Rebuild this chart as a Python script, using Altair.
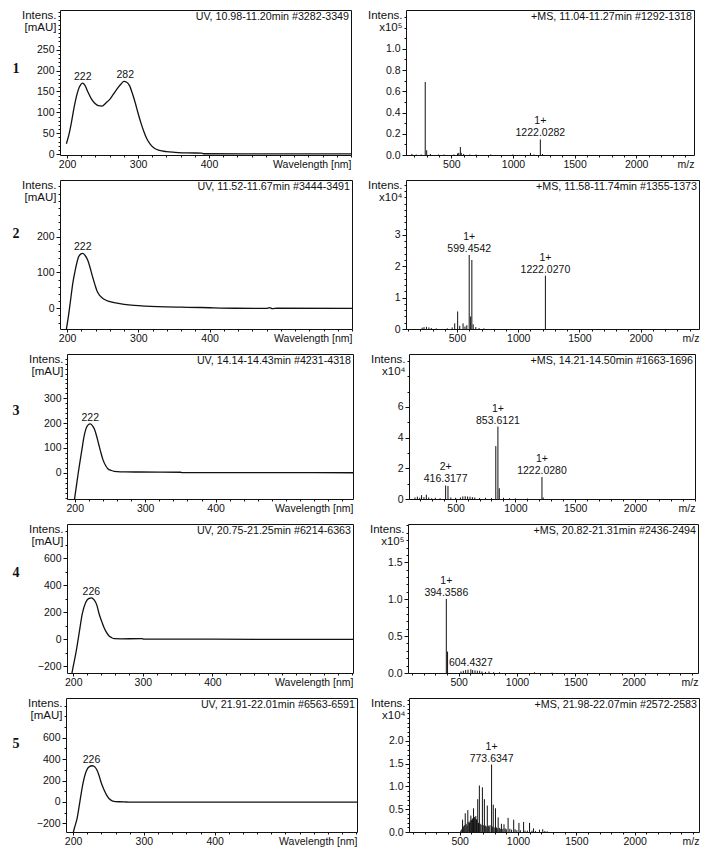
import math
import altair as alt
import pandas as pd

FONT = "Liberation Sans"
INK = "#111111"

# ---------------- data ----------------
ROW_NUMBERS = ["1", "2", "3", "4", "5"]

UV_HEADERS = ["UV, 10.98-11.20min #3282-3349", "UV, 11.52-11.67min #3444-3491",
              "UV, 14.14-14.43min #4231-4318", "UV, 20.75-21.25min #6214-6363",
              "UV, 21.91-22.01min #6563-6591"]
MS_HEADERS = ["+MS, 11.04-11.27min #1292-1318", "+MS, 11.58-11.74min #1355-1373",
              "+MS, 14.21-14.50min #1663-1696", "+MS, 20.82-21.31min #2436-2494",
              "+MS, 21.98-22.07min #2572-2583"]
MS_EXPONENT = ["x10\u2075", "x10\u2074", "x10\u2074", "x10\u2075", "x10\u2074"]

# UV spectra (wavelength nm, absorbance mAU)
UV1_NM = [199, 203, 206, 210, 213, 216, 219, 222, 225, 229, 234, 239, 244, 249, 255, 261, 267, 272,
          276, 280, 284, 288, 292, 296, 300, 304, 308, 312, 317, 323, 330, 340, 352, 370, 390, 392,
          450, 520, 600]
UV1_AB = [25, 50, 75, 113, 137, 155, 166, 170, 165, 150, 133, 122, 116, 115, 123, 133, 148, 160,
          168, 174, 172, 164, 145, 123, 98, 75, 55, 38, 24, 14, 9, 6, 4.5, 3, 2.5, 1,
          0.8, 0.8, 0.8]
UV2_NM = [199, 202, 205, 208, 212, 216, 219, 222, 225, 229, 232, 235, 239, 242, 246, 252, 259, 266,
          280, 294, 310, 327, 360, 388, 435, 480, 484, 488, 495, 600]
UV2_AB = [-58, -20, 25, 70, 112, 143, 151, 153, 148, 134, 115, 93, 66, 48, 35, 25, 19, 15.6,
          11, 8, 6, 4.6, 3, 2, 0, -0.5, 1.5, -1, 0, -0.5]
UV3_NM = [199, 202, 205, 208, 210, 213, 216, 219, 222, 225, 228, 231, 234, 237, 240, 244, 247, 252,
          256, 265, 285, 320, 350, 352, 420, 500, 595]
UV3_AB = [-120, -60, 0, 55, 90, 144, 178, 193, 197, 190, 175, 148, 115, 82, 53, 28, 16, 9,
          5.5, 3.5, 3, 2.5, 2, 0.5, 0.3, 0.2, 0]
UV4_NM = [197, 200, 204, 208.5, 213, 218, 222, 226, 230, 234, 237, 241, 244.5, 248, 251.5, 255,
          259, 270, 299, 301, 400, 500, 602]
UV4_AB = [-280, -200, -96, 47, 190, 274, 300, 306, 290, 250, 190, 130, 83, 48, 24, 12,
          4, 3, 4, 0, 0, -1, -1]
UV5_NM = [199, 202, 205.6, 209.4, 214, 219, 223, 227, 231, 234, 237, 240, 244, 247, 251, 256,
          265, 275, 290, 601]
UV5_AB = [-320, -240, -155, -5, 174, 293, 330, 338, 325, 293, 240, 174, 110, 69, 30, 9,
          2, 0, -2, -2]

UV_PEAK_NM = [[222, 282], [222], [222], [226], [226]]
UV_PEAK_AB = [[170, 175], [153], [197], [306], [338]]

# MS spectra (m/z, intensity in units of the exponent)
MS1_MZ = [180, 215, 255, 288, 300, 330, 395, 440, 520, 550, 560, 573, 580, 600, 650, 700, 820,
          1000, 1142, 1170, 1222.03, 1240]
MS1_IN = [0.01, 0.005, 0.005, 0.687, 0.045, 0.01, 0.005, 0.005, 0.005, 0.015, 0.02, 0.075, 0.02,
          0.01, 0.005, 0.005, 0.005, 0.005, 0.02, 0.005, 0.146, 0.01]
MS2_MZ = [215, 230, 250, 270, 290, 330, 420, 460, 481, 505, 522, 549, 565, 580, 599.45, 611, 621,
          632, 653, 680, 720, 1222.03]
MS2_IN = [0.04, 0.06, 0.07, 0.05, 0.03, 0.02, 0.02, 0.05, 0.18, 0.56, 0.1, 0.18, 0.08, 0.12, 2.36,
          0.4, 2.2, 0.15, 0.06, 0.03, 0.02, 1.70]
MS3_MZ = [160, 180, 200, 215, 235, 255, 275, 300, 330, 370, 416.32, 436, 460, 500, 540, 560, 580,
          600, 620, 640, 660, 700, 750, 800, 836, 853.61, 865, 900, 950, 1000, 1100, 1222.03, 1232]
MS3_IN = [0.1, 0.15, 0.08, 0.25, 0.12, 0.28, 0.1, 0.05, 0.08, 0.05, 0.88, 0.85, 0.1, 0.08, 0.1,
          0.17, 0.18, 0.16, 0.15, 0.12, 0.1, 0.06, 0.08, 0.06, 3.45, 4.72, 0.7, 0.08, 0.05, 0.04,
          0.03, 1.43, 0.1]
MS4_MZ = [394.36, 405, 520, 540, 560, 580, 604.43, 620, 640, 660, 680, 700, 730, 760, 800, 850,
          1150, 1300]
MS4_IN = [1.005, 0.29, 0.02, 0.03, 0.04, 0.045, 0.05, 0.04, 0.035, 0.03, 0.03, 0.02, 0.015, 0.02,
          0.01, 0.01, 0.01, 0.005]
MS5_MZ = [525, 548, 570, 596, 619, 655, 669, 695, 712, 737, 773.63, 788, 807, 830, 858, 880, 915,
          963, 1008, 1048, 1099, 1133, 1184, 1212,
          510, 518, 532, 540, 556, 563, 578, 585, 590, 603, 608, 612, 626, 632, 638, 644, 648, 662,
          676, 684, 702, 720, 728, 745, 752, 760, 780, 796, 815, 822, 840, 848, 870, 890, 900, 930,
          945, 975, 990, 1020, 1060, 1080, 1120, 1150, 1230, 1250]
MS5_IN = [0.27, 0.41, 0.48, 0.36, 0.52, 0.72, 1.02, 0.98, 0.72, 0.58, 1.48, 0.60, 0.52, 0.32, 0.18,
          0.17, 0.31, 0.27, 0.20, 0.22, 0.20, 0.08, 0.05, 0.06,
          0.03, 0.06, 0.12, 0.15, 0.18, 0.14, 0.22, 0.2, 0.25, 0.26, 0.3, 0.28, 0.33, 0.3, 0.35,
          0.28, 0.25, 0.2, 0.18, 0.16, 0.15, 0.14, 0.12, 0.14, 0.12, 0.15, 0.12, 0.1, 0.1, 0.08,
          0.09, 0.07, 0.07, 0.08, 0.06, 0.07, 0.05, 0.06, 0.04, 0.04, 0.03, 0.03, 0.03, 0.02, 0.02,
          0.015]

MS_LABEL_MZ = [[1222.03], [599.45, 1222.03], [416.32, 853.61, 1222.03], [394.36, 604.43], [773.63]]
MS_LABEL_IN = [[0.146], [2.36, 1.70], [0.88, 4.72, 1.43], [1.005, 0.05], [1.48]]
MS_LABEL_TXT = [["1222.0282"], ["599.4542", "1222.0270"], ["416.3177", "853.6121", "1222.0280"],
                ["394.3586", "604.4327"], ["773.6347"]]
MS_LABEL_Z = [["1+"], ["1+", "1+"], ["2+", "1+", "1+"], ["1+", ""], ["1+"]]

UV_SPECTRA = [(UV1_NM, UV1_AB), (UV2_NM, UV2_AB), (UV3_NM, UV3_AB), (UV4_NM, UV4_AB), (UV5_NM, UV5_AB)]
MS_SPECTRA = [(MS1_MZ, MS1_IN), (MS2_MZ, MS2_IN), (MS3_MZ, MS3_IN), (MS4_MZ, MS4_IN), (MS5_MZ, MS5_IN)]

# axis settings
UV_XDOM = [[190, 600], [190, 600], [189, 595], [191, 602], [190, 601]]
UV_YDOM = [[-2, 345], [-58, 358], [-106, 479], [-250, 852], [-280, 970]]
UV_YMAJ = [[0, 50, 100, 150, 200, 250], [0, 100, 200], [0, 100, 200, 300],
           [-200, 0, 200, 400, 600], [-200, 0, 200, 400, 600]]
UV_YSTEP = [10, 20, 20, 100, 100]
UV_XMAJ = [200, 300, 400]

MS_XDOM = [[132, 2469], [83, 2477], [110, 2502], [66, 2551], [66, 2551]]
MS_YDOM = [[0, 1.365], [0, 4.75], [0, 9.45], [0, 2.02], [0, 2.94]]
MS_YMAJ = [[0.0, 0.2, 0.4, 0.6, 0.8, 1.0], [0, 1, 2, 3], [0, 2, 4, 6],
           [0.0, 0.5, 1.0, 1.5], [0.0, 0.5, 1.0, 1.5, 2.0]]
MS_YSTEP = [0.1, 0.2, 1, 0.1, 0.1]
MS_YFMT = [".1f", "d", "d", ".1f", ".1f"]
MS_XMAJ = [500, 1000, 1500, 2000]

# layout
H = [145, 149, 145, 149, 134]
UV_W = [291, 292, 286, 286, 291]
MS_W = [288, 293, 286, 290, 290]
GAP = [14, 13, 15, 14, 11]
RN_W = 8
RN_GAP = [0, 0, 7, 7, 6]
RN_Y = [59, 54, 57, 49, 46]


def tick_list(lo, hi, step):
    out = []
    k = math.ceil(lo / step - 1e-9)
    while k * step <= hi + 1e-9:
        out.append(round(k * step, 6))
        k += 1
    return out


def y_axes(major, step, dom, fmt, title):
    maj = alt.Axis(orient="left", values=major, format=fmt, tickSize=4, title=title,
                   titleAngle=0, titleAlign="right", titleBaseline="top", titleX=-4, titleY=-1,
                   titleFontSize=11.5, titleLineHeight=12.5)
    mnr = alt.Axis(orient="left", values=tick_list(dom[0], dom[1], step), labels=False,
                   tickSize=2, title=None)
    return maj, mnr


def x_axes(major, step, dom, width, title):
    maj = alt.Axis(orient="bottom", values=major, format="d", tickSize=3, labelPadding=1,
                   title=title, titleAlign="right", titleBaseline="top", titleX=width, titleY=4,
                   titleFontSize=10.5)
    mnr = alt.Axis(orient="bottom", values=tick_list(dom[0], dom[1], step), labels=False,
                   tickSize=2, title=None)
    return maj, mnr


def text_layer(text, x, y, **kw):
    return alt.Chart(pd.DataFrame({"t": [text]})).mark_text(**kw).encode(
        x=alt.value(x), y=alt.value(y), text="t:N")


def row_number(i):
    return text_layer(ROW_NUMBERS[i], 5, RN_Y[i], font="Liberation Serif", fontSize=14,
                      fontWeight="bold", color=INK, align="center", baseline="middle").properties(
        width=RN_W, height=H[i], view=alt.ViewBackground(stroke="transparent"))


def uv_panel(i):
    nm, ab = UV_SPECTRA[i]
    W, Hh = UV_W[i], H[i]
    df = pd.DataFrame({"nm": nm, "ab": ab})
    xs = alt.Scale(domain=UV_XDOM[i], nice=False, zero=False)
    ys = alt.Scale(domain=UV_YDOM[i], nice=False, zero=False)
    xmaj, xmin = x_axes(UV_XMAJ, 20, UV_XDOM[i], W, "Wavelength [nm]")
    ymaj, ymin = y_axes(UV_YMAJ[i], UV_YSTEP[i], UV_YDOM[i], "d", ["Intens.", "[mAU]"])
    line = alt.Chart(df).mark_line(color=INK, strokeWidth=1.3, clip=True,
                                   interpolate="monotone").encode(
        x=alt.X("nm:Q", scale=xs, axis=xmaj), y=alt.Y("ab:Q", scale=ys, axis=ymaj))
    ghost = alt.Chart(df).mark_line(strokeOpacity=0, clip=True).encode(
        x=alt.X("nm:Q", scale=xs, axis=xmin), y=alt.Y("ab:Q", scale=ys, axis=ymin))
    pk = pd.DataFrame({"nm": UV_PEAK_NM[i], "ab": UV_PEAK_AB[i],
                       "lab": [str(v) for v in UV_PEAK_NM[i]]})
    peaks = alt.Chart(pk).mark_text(font=FONT, fontSize=10.5, color=INK, baseline="alphabetic",
                                    dy=-3).encode(
        x=alt.X("nm:Q", scale=xs, axis=None), y=alt.Y("ab:Q", scale=ys, axis=None), text="lab:N")
    hdr = text_layer(UV_HEADERS[i], W - 2, 2, font=FONT, fontSize=10.7, color=INK,
                     align="right", baseline="top")
    return alt.layer(line, ghost, peaks, hdr).resolve_axis(
        x="independent", y="independent").properties(width=W, height=Hh)


def ms_panel(i):
    mz, it = MS_SPECTRA[i]
    W, Hh = MS_W[i], H[i]
    df = pd.DataFrame({"mz": mz, "it": it})
    xs = alt.Scale(domain=MS_XDOM[i], nice=False, zero=False)
    ys = alt.Scale(domain=MS_YDOM[i], nice=False, zero=False)
    xmaj, xmin = x_axes(MS_XMAJ, 100, MS_XDOM[i], W, "m/z")
    ymaj, ymin = y_axes(MS_YMAJ[i], MS_YSTEP[i], MS_YDOM[i], MS_YFMT[i],
                        ["Intens.", MS_EXPONENT[i]])
    bars = alt.Chart(df).mark_rule(color=INK, strokeWidth=1, clip=True).encode(
        x=alt.X("mz:Q", scale=xs, axis=xmaj), y=alt.Y("it:Q", scale=ys, axis=ymaj),
        y2=alt.datum(0))
    ghost = alt.Chart(df).mark_rule(strokeOpacity=0, clip=True).encode(
        x=alt.X("mz:Q", scale=xs, axis=xmin), y=alt.Y("it:Q", scale=ys, axis=ymin),
        y2=alt.datum(0))
    lab = pd.DataFrame({"mz": MS_LABEL_MZ[i], "it": MS_LABEL_IN[i], "txt": MS_LABEL_TXT[i],
                        "z": MS_LABEL_Z[i]})
    num = alt.Chart(lab).mark_text(font=FONT, fontSize=10.5, color=INK, baseline="alphabetic",
                                   dy=-3).encode(
        x=alt.X("mz:Q", scale=xs, axis=None), y=alt.Y("it:Q", scale=ys, axis=None), text="txt:N")
    chg = alt.Chart(lab).mark_text(font=FONT, fontSize=10.5, color=INK, baseline="alphabetic",
                                   dy=-15).encode(
        x=alt.X("mz:Q", scale=xs, axis=None), y=alt.Y("it:Q", scale=ys, axis=None), text="z:N")
    hdr = text_layer(MS_HEADERS[i], W - 2, 2, font=FONT, fontSize=10.7, color=INK,
                     align="right", baseline="top")
    return alt.layer(bars, ghost, num, chg, hdr).resolve_axis(
        x="independent", y="independent").properties(width=W, height=Hh)


rows = [alt.hconcat(alt.hconcat(row_number(i), uv_panel(i), spacing=RN_GAP[i]),
                    ms_panel(i), spacing=GAP[i]) for i in range(5)]

chart = alt.concat(*rows, columns=1, spacing=8, align="none").properties(
    padding={"left": 2, "top": 0, "right": 0, "bottom": 0}, background="white"
).configure_view(stroke=INK, strokeWidth=1).configure_axis(
    labelFont=FONT, labelFontSize=10.5, labelColor=INK, tickColor=INK, tickWidth=1,
    domain=False, grid=False, labelPadding=2, labelFlush=False, labelOverlap=False,
    titleFont=FONT, titleColor=INK, titleFontWeight="normal"
)

chart.save("out.html", embed_options={"renderer": "svg", "actions": False})
